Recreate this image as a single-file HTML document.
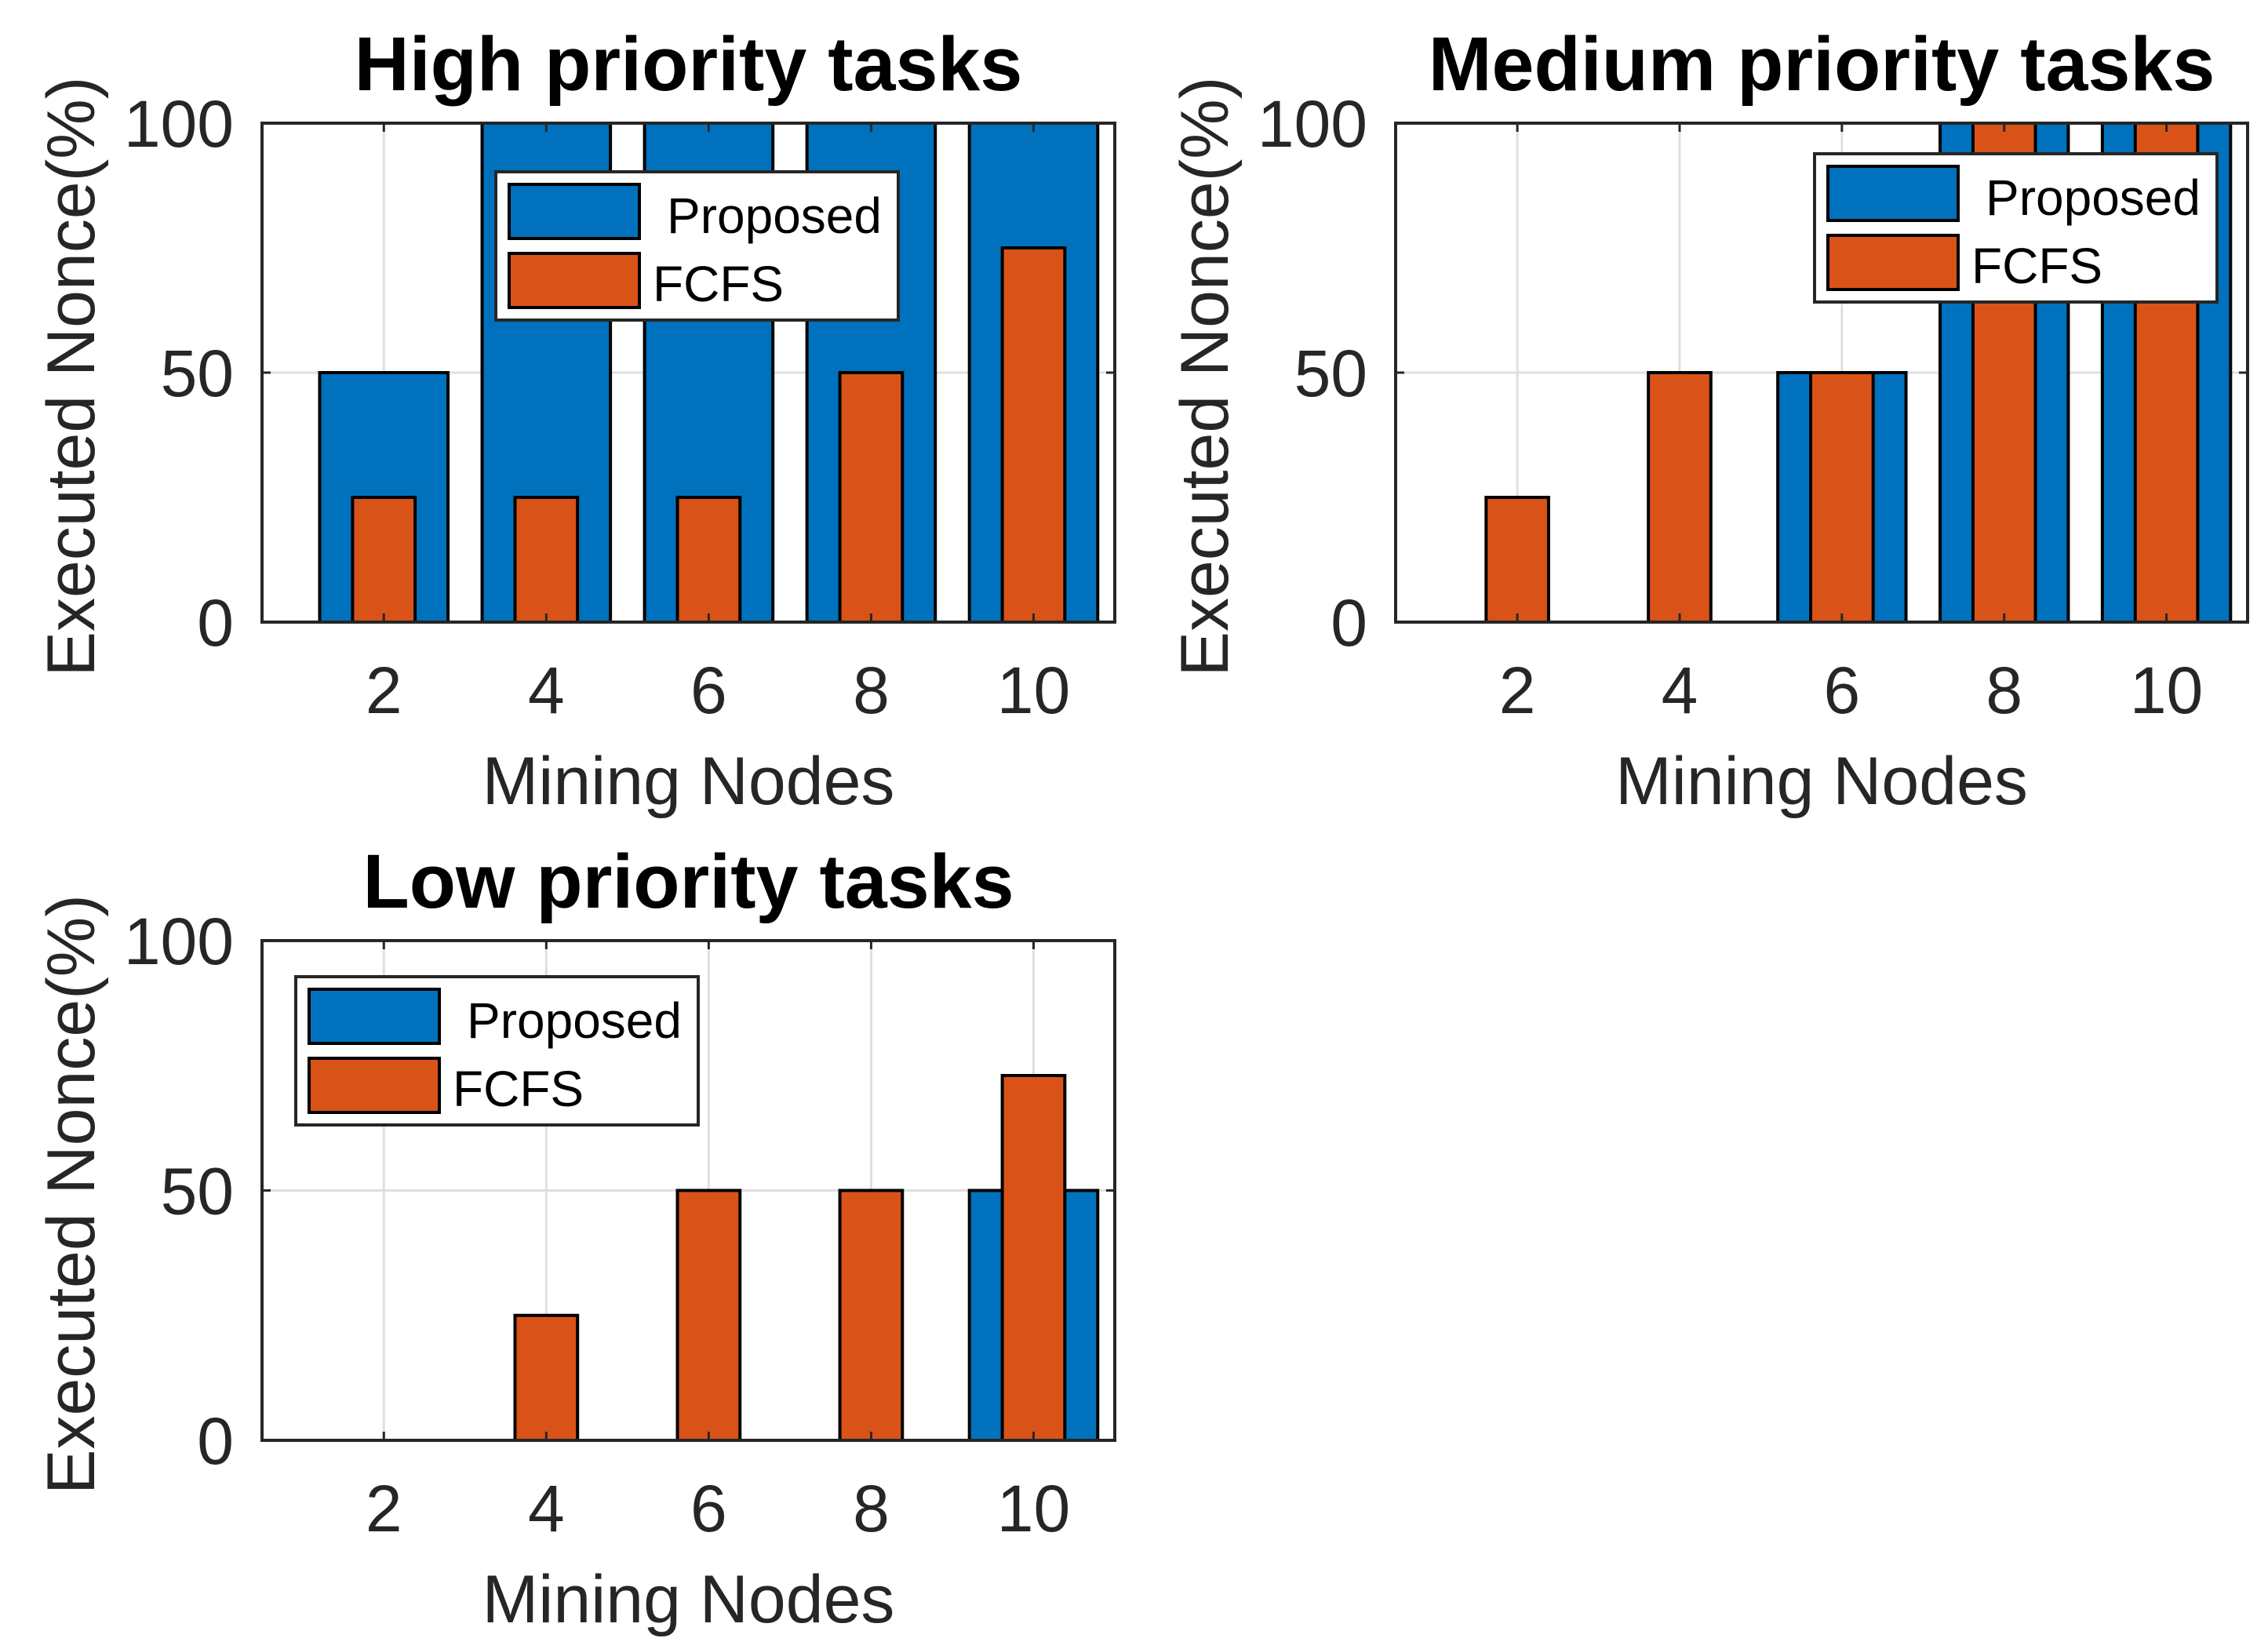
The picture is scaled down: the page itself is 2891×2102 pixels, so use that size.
<!DOCTYPE html>
<html><head><meta charset="utf-8"><style>
html,body{margin:0;padding:0;background:#fff;}
svg{display:block;font-family:"Liberation Sans",Arial,sans-serif;}
</style></head><body>
<svg id="fig" width="2891" height="2102" viewBox="0 0 2891 2102" xmlns="http://www.w3.org/2000/svg">
<rect x="0" y="0" width="2891" height="2102" fill="#fff"/>
</svg>
<script>
const categories = [2, 4, 6, 8, 10];
const highProposed = [50, 100, 100, 100, 100];
const highFCFS = [25, 25, 25, 50, 75];
const medProposed = [0, 0, 50, 100, 100];
const medFCFS = [25, 50, 50, 100, 100];
const lowProposed = [0, 0, 0, 0, 50];
const lowFCFS = [0, 25, 50, 50, 73];
const yTicks = [0, 50, 100];
const xTickLabels = ["2", "4", "6", "8", "10"];
const seriesNames = ["Proposed", "FCFS"];

const NS = "http://www.w3.org/2000/svg";
const fig = document.getElementById("fig");
function mk(tag, attrs, parent){ const e=document.createElementNS(NS,tag); for(const k in attrs) e.setAttribute(k,attrs[k]); (parent||fig).appendChild(e); return e; }

const panels = [
 {key:"high", title:"High priority tasks", prop:highProposed, fcfs:highFCFS, L:334, R:1421, T:157, B:793, lx:632, ly:219},
 {key:"medium", title:"Medium priority tasks", prop:medProposed, fcfs:medFCFS, L:1779, R:2865, T:157, B:793, lx:2313, ly:196},
 {key:"low", title:"Low priority tasks", prop:lowProposed, fcfs:lowFCFS, L:334, R:1421, T:1199, B:1836, lx:377, ly:1245}
];
const BLUE="#0072BD", ORANGE="#D95319", TXT="#262626";

panels.forEach(p=>{
  const g = mk("g",{});
  
  
  const xmin=0.5, xmax=11, ymin=0, ymax=100;
  const xs = v => p.L + (v-xmin)/(xmax-xmin)*(p.R-p.L);
  const ys = v => p.B - (v-ymin)/(ymax-ymin)*(p.B-p.T);
  const clip = "clip-"+p.key;
  const cp = mk("clipPath",{id:clip},g);
  mk("rect",{x:p.L,y:p.T,width:p.R-p.L,height:p.B-p.T},cp);
  categories.forEach(c=>{ const l=mk("line",{x1:xs(c),x2:xs(c),y1:p.T,y2:p.B,stroke:"#dfdfdf","stroke-width":3},g);
      });
  yTicks.forEach(t=>{ const l=mk("line",{x1:p.L,x2:p.R,y1:ys(t),y2:ys(t),stroke:"#dfdfdf","stroke-width":3},g);
      });
  const bars = mk("g",{"clip-path":"url(#"+clip+")"},g);
  const wP=1.58, wF=0.77;
  categories.forEach((c,i)=>{
    const v=p.prop[i];
    if(v>0){ const r=mk("rect",{x:xs(c-wP/2),y:ys(v),width:xs(c+wP/2)-xs(c-wP/2),height:ys(0)-ys(v),fill:BLUE,stroke:"#000","stroke-width":4},bars);
        }
  });
  categories.forEach((c,i)=>{
    const v=p.fcfs[i];
    if(v>0){ const r=mk("rect",{x:xs(c-wF/2),y:ys(v),width:xs(c+wF/2)-xs(c-wF/2),height:ys(0)-ys(v),fill:ORANGE,stroke:"#000","stroke-width":4},bars);
        }
  });
  categories.forEach(c=>{ mk("line",{x1:xs(c),x2:xs(c),y1:p.B,y2:p.B-11,stroke:TXT,"stroke-width":3},g); mk("line",{x1:xs(c),x2:xs(c),y1:p.T,y2:p.T+11,stroke:TXT,"stroke-width":3},g); });
  yTicks.forEach(t=>{ mk("line",{x1:p.L,x2:p.L+11,y1:ys(t),y2:ys(t),stroke:TXT,"stroke-width":3},g); mk("line",{x1:p.R,x2:p.R-11,y1:ys(t),y2:ys(t),stroke:TXT,"stroke-width":3},g); });
  const box=mk("rect",{x:p.L,y:p.T,width:p.R-p.L,height:p.B-p.T,fill:"none",stroke:TXT,"stroke-width":4},g);
   
  categories.forEach((c,i)=>{ const t=mk("text",{x:xs(c),y:p.B+116,"font-size":84,"text-anchor":"middle",fill:TXT},g); t.textContent=xTickLabels[i];
      });
  yTicks.forEach(v=>{ const t=mk("text",{x:p.L-36,y:ys(v)+30,"font-size":84,"text-anchor":"end",fill:TXT},g); t.textContent=String(v);
      });
  const cx=(p.L+p.R)/2;
  const xl=mk("text",{x:cx,y:p.B+232,"font-size":86,"text-anchor":"middle",fill:TXT},g); xl.textContent="Mining Nodes";
   
  const yx=p.L-214, yy=(p.T+p.B)/2+5;
  const yl=mk("text",{x:yx,y:yy,"font-size":86,"text-anchor":"middle",fill:TXT,transform:"rotate(-90 "+yx+" "+yy+")"},g); yl.textContent="Executed Nonce(%)";
   
  const tt=mk("text",{x:cx,y:p.T-42,"font-size":97,"font-weight":"bold","text-anchor":"middle",fill:"#000"},g); tt.textContent=p.title;
   
  const lg=mk("g",{},g);
   
  mk("rect",{x:p.lx,y:p.ly,width:513,height:189,fill:"#fff",stroke:TXT,"stroke-width":4},lg);
  const cols=[BLUE,ORANGE];
  seriesNames.forEach((n,i)=>{
    const e=mk("g",{},lg);
     
    mk("rect",{x:p.lx+17,y:p.ly+16+i*88,width:166,height:69,fill:cols[i],stroke:"#000","stroke-width":4},e);
    const t=mk("text",{x:p.lx+(i==0?218:200),y:p.ly+78+i*87,"font-size":64,fill:"#000"},e); t.textContent=n;
  });
});
</script>
</body></html>
